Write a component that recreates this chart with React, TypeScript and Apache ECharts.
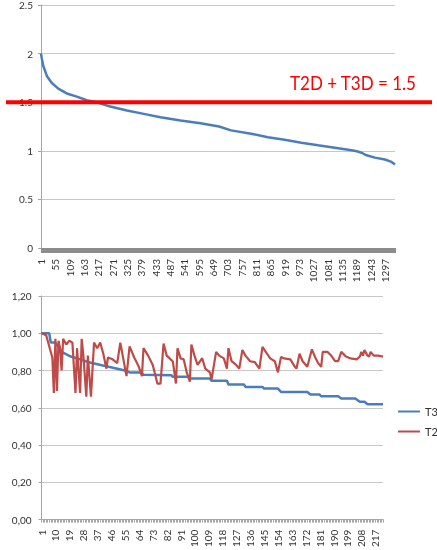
import React, { useEffect, useRef } from "react";
import * as echarts from "echarts";

// ---- Top chart: sorted T2D + T3D sum ----
const topCount = 1335;
const topCategories = Array.from({ length: topCount }, (_, i) => String(i + 1));
const topIdx = [0, 3, 9, 22, 40, 65, 97, 135, 172, 210, 261, 324, 387, 450, 526, 601, 671, 716, 792, 855, 918, 981, 1044, 1107, 1170, 1190, 1208, 1227, 1258, 1296, 1321, 1334];
const topVal = [2.0, 1.95, 1.87, 1.77, 1.7, 1.64, 1.59, 1.557, 1.52, 1.5, 1.455, 1.414, 1.38, 1.346, 1.312, 1.284, 1.25, 1.21, 1.176, 1.14, 1.114, 1.083, 1.056, 1.032, 1.005, 0.995, 0.98, 0.954, 0.93, 0.91, 0.886, 0.859];

const thresholdValue = 1.5;
const thresholdLabel = "T2D + T3D = 1.5";

// ---- Bottom chart: T3D and T2D ----
const bottomCount = 222;
const bottomCategories = Array.from({ length: bottomCount }, (_, i) => String(i + 1));
const seriesNames = ["T3D", "T2D"];

const t3dIdx = [0, 5, 6, 9, 13, 19, 25, 30, 39, 47, 54, 57, 64, 66, 84, 85, 95, 96, 109, 110, 120, 121, 131, 132, 143, 144, 153, 155, 172, 174, 180, 181, 192, 194, 203, 206, 209, 211, 221];
const t3dVal = [1.0, 1.0, 0.95, 0.95, 0.9, 0.875, 0.86, 0.846, 0.828, 0.814, 0.8, 0.79, 0.79, 0.778, 0.775, 0.766, 0.766, 0.757, 0.757, 0.745, 0.745, 0.725, 0.725, 0.712, 0.712, 0.703, 0.703, 0.685, 0.685, 0.671, 0.671, 0.662, 0.662, 0.65, 0.65, 0.632, 0.632, 0.619, 0.619];

const t2dIdx = [0, 3, 5, 7, 8, 9, 10, 11, 12, 13, 14, 16, 18, 20, 22, 23, 25, 26, 27, 29, 30, 32, 34, 36, 38, 40, 42, 43, 46, 49, 51, 53, 55, 57, 60, 63, 65, 66, 69, 72, 75, 77, 79, 81, 83, 85, 87, 88, 90, 92, 94, 96, 97, 99, 101, 104, 106, 109, 110, 113, 115, 118, 120, 121, 123, 126, 128, 130, 132, 135, 138, 141, 143, 146, 148, 151, 153, 155, 157, 161, 164, 165, 167, 169, 172, 175, 177, 179, 181, 182, 185, 187, 190, 192, 194, 197, 200, 204, 206, 207, 208, 209, 211, 212, 213, 215, 218, 221];
const t2dVal = [1.0, 0.99, 0.93, 0.87, 0.68, 0.97, 0.69, 0.96, 0.92, 0.8, 0.97, 0.94, 0.96, 0.95, 0.68, 0.92, 0.68, 0.97, 0.89, 0.66, 0.88, 0.66, 0.95, 0.92, 0.95, 0.89, 0.81, 0.87, 0.86, 0.84, 0.95, 0.86, 0.77, 0.93, 0.87, 0.82, 0.77, 0.92, 0.88, 0.83, 0.73, 0.73, 0.945, 0.88, 0.865, 0.848, 0.73, 0.92, 0.865, 0.86, 0.79, 0.74, 0.94, 0.88, 0.83, 0.866, 0.81, 0.79, 0.75, 0.9, 0.88, 0.865, 0.81, 0.92, 0.85, 0.83, 0.81, 0.91, 0.88, 0.85, 0.845, 0.81, 0.927, 0.89, 0.865, 0.85, 0.79, 0.873, 0.865, 0.86, 0.82, 0.81, 0.89, 0.85, 0.82, 0.914, 0.873, 0.84, 0.82, 0.9, 0.9, 0.885, 0.85, 0.85, 0.9, 0.875, 0.865, 0.86, 0.875, 0.9, 0.88, 0.91, 0.88, 0.875, 0.9, 0.88, 0.88, 0.875];

const pairs = (xs: number[], ys: number[]) => xs.map((x, i) => [x, ys[i]]);

const FONT = "Lato";
const BLUE = "#4a7ebb";
const RED = "#be4b48";

export default function App() {
  const ref = useRef<HTMLDivElement>(null);
  useEffect(() => {
    if (!ref.current) return;
    const chart = echarts.init(ref.current, null, { renderer: "svg" });
    const axisGray = "#a6a6a6";
    const gridGray = "#c8c8c8";
    chart.setOption({
      animation: false,
      grid: [
        { left: 41, right: 42, top: 4, bottom: 302 },
        { left: 41.5, right: 54, top: 296, bottom: 30 },
      ],
      xAxis: [
        {
          type: "category",
          gridIndex: 0,
          data: topCategories,
          boundaryGap: false,
          axisLine: { lineStyle: { color: "#8c8c8c" } },
          axisTick: { interval: 0, length: 5, lineStyle: { color: "#8c8c8c" } },
          axisLabel: { interval: 53, rotate: 90, margin: 11, fontSize: 10, color: "#333", fontFamily: FONT },
          splitLine: { show: false },
        },
        {
          type: "category",
          gridIndex: 1,
          data: bottomCategories,
          boundaryGap: false,
          axisLine: { lineStyle: { color: axisGray } },
          axisTick: { interval: 0, length: 3, lineStyle: { color: axisGray } },
          axisLabel: { interval: 8, rotate: 90, margin: 10, fontSize: 10, color: "#333", fontFamily: FONT },
          splitLine: { show: false },
        },
      ],
      yAxis: [
        {
          type: "value",
          gridIndex: 0,
          min: 0,
          max: 2.5,
          interval: 0.5,
          axisLine: { show: true, lineStyle: { color: axisGray } },
          axisTick: { show: true, length: 3, lineStyle: { color: axisGray } },
          axisLabel: { margin: 8, fontSize: 10, color: "#333", fontFamily: FONT },
          splitLine: { lineStyle: { color: gridGray } },
        },
        {
          type: "value",
          gridIndex: 1,
          min: 0,
          max: 1.2,
          interval: 0.2,
          axisLine: { show: true, lineStyle: { color: axisGray } },
          axisTick: { show: true, length: 3, lineStyle: { color: axisGray } },
          axisLabel: {
            margin: 10,
            fontSize: 10,
            color: "#333",
            fontFamily: FONT,
            formatter: (v: number) => v.toFixed(2).replace(".", ","),
          },
          splitLine: { lineStyle: { color: gridGray } },
        },
      ],
      legend: {
        data: seriesNames,
        orient: "vertical",
        left: 398,
        top: 406,
        padding: 0,
        itemGap: 9,
        icon: "rect",
        itemWidth: 22,
        itemHeight: 2,
        textStyle: { fontSize: 11, color: "#333", fontFamily: FONT },
      },
      series: [
        {
          type: "line",
          xAxisIndex: 0,
          yAxisIndex: 0,
          data: pairs(topIdx, topVal),
          symbol: "none",
          itemStyle: { color: BLUE },
          lineStyle: { color: BLUE, width: 2.5 },
        },
        {
          name: seriesNames[0],
          type: "line",
          xAxisIndex: 1,
          yAxisIndex: 1,
          data: pairs(t3dIdx, t3dVal),
          symbol: "none",
          itemStyle: { color: BLUE },
          lineStyle: { color: BLUE, width: 2.5 },
        },
        {
          name: seriesNames[1],
          type: "line",
          xAxisIndex: 1,
          yAxisIndex: 1,
          data: pairs(t2dIdx, t2dVal),
          symbol: "none",
          itemStyle: { color: RED },
          lineStyle: { color: RED, width: 2.2 },
        },
      ],
    });
    const lineY = chart.convertToPixel({ yAxisIndex: 0 } as any, thresholdValue) as number;
    chart.setOption({
      graphic: [
        {
          type: "line",
          shape: { x1: 6, y1: lineY, x2: 432, y2: lineY },
          style: { stroke: "#ff0000", lineWidth: 4 },
          z: 100,
        },
        {
          type: "text",
          x: 290,
          y: lineY - 20,
          scaleX: 0.85,
          style: {
            text: thresholdLabel,
            fill: "#ff0000",
            font: `20px ${FONT}`,
            verticalAlign: "middle",
          },
          z: 100,
        },
      ],
    });
    return () => chart.dispose();
  }, []);
  return <div ref={ref} style={{ position: "fixed", left: 0, top: 0, width: 437, height: 550 }} />;
}
